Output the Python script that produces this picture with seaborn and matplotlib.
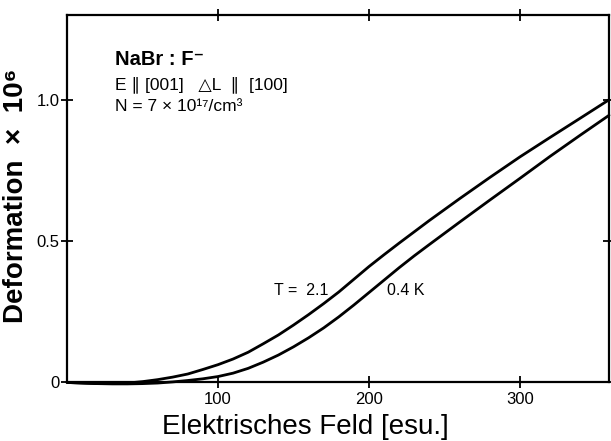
import pandas as pd
import numpy as np
import seaborn as sns
import matplotlib.pyplot as plt

# Werte (Feld in esu, Deformation x 10^6)
feld = [0, 10, 20, 30, 40, 50, 60, 70, 80, 90, 100, 110, 120, 130, 140, 150, 160, 170,
        180, 190, 200, 210, 220, 230, 240, 260, 280, 300, 320, 340, 359]
def_21K = [0, -0.002, -0.004, -0.004, -0.002, 0.003, 0.01, 0.019, 0.03, 0.046, 0.063, 0.083,
           0.107, 0.137, 0.168, 0.203, 0.24, 0.279, 0.32, 0.365, 0.41, 0.452, 0.493, 0.533,
           0.573, 0.65, 0.725, 0.798, 0.867, 0.935, 1.0]
def_04K = [0, -0.002, -0.004, -0.005, -0.005, -0.004, -0.002, 0.002, 0.007, 0.013, 0.021, 0.033,
           0.05, 0.072, 0.097, 0.126, 0.158, 0.193, 0.232, 0.274, 0.318, 0.362, 0.406, 0.448,
           0.488, 0.567, 0.645, 0.722, 0.80, 0.875, 0.945]
temperaturen = ["2.1 K", "0.4 K"]

x_ticks = [100, 200, 300]
y_ticks = [0, 0.5, 1.0]
y_ticklabels = ["0", "0.5", "1.0"]

df = pd.DataFrame({
    "Feld": feld + feld,
    "Deformation": def_21K + def_04K,
    "T": [temperaturen[0]] * len(feld) + [temperaturen[1]] * len(feld),
})

sns.set_style("ticks")
plt.rcParams['font.family'] = ['Liberation Sans', 'DejaVu Sans']
plt.rcParams['text.color'] = 'black'
plt.rcParams['axes.labelcolor'] = 'black'
plt.rcParams['xtick.color'] = 'black'
plt.rcParams['ytick.color'] = 'black'

fig = plt.figure(figsize=(6.11, 4.41), dpi=100)
ax = fig.add_axes([0.1097, 0.1327, 0.8870, 0.8333])

sns.lineplot(data=df, x="Feld", y="Deformation", hue="T",
             palette=["black", "black"], linewidth=2, legend=False, ax=ax, sort=False)
for line in ax.lines:
    line.set_clip_on(False)

ax.set_xlim(0, 359)
ax.set_ylim(0, 1.3)

for s in ax.spines.values():
    s.set_visible(True)
    s.set_linewidth(1.6)
    s.set_color("black")

ax.set_xticks(x_ticks)
ax.set_yticks(y_ticks)
ax.set_yticklabels(y_ticklabels)
ax.tick_params(axis="both", direction="inout", length=9, width=1.3, labelsize=12,
               top=True, right=True, pad=2)
ax.tick_params(axis="y", pad=1)

# Achsenbeschriftungen (Position per Hand)
ax.set_xlabel("Elektrisches Feld [esu.]", fontsize=20, va="center")
ax.xaxis.set_label_coords(0.439, -0.121)
ax.set_ylabel("Deformation  ×  10⁶", fontsize=20, fontweight="bold", va="center")
ax.yaxis.set_label_coords(-0.094, 0.507)

# Beschriftungen im Bild
ax.text(32, 1.144, "NaBr : F⁻", fontsize=14.5, fontweight="bold", va="center")
ax.text(32, 1.055, "E ∥ [001]   △L  ∥  [100]", fontsize=12.5, va="center")
ax.text(32, 0.977, "N = 7 × 10¹⁷/cm³", fontsize=12.5, va="center")
ax.text(137, 0.327, "T =  2.1", fontsize=11.5, va="center")
ax.text(212, 0.327, "0.4 K", fontsize=11.5, va="center")

plt.savefig("out.png", dpi=100)
